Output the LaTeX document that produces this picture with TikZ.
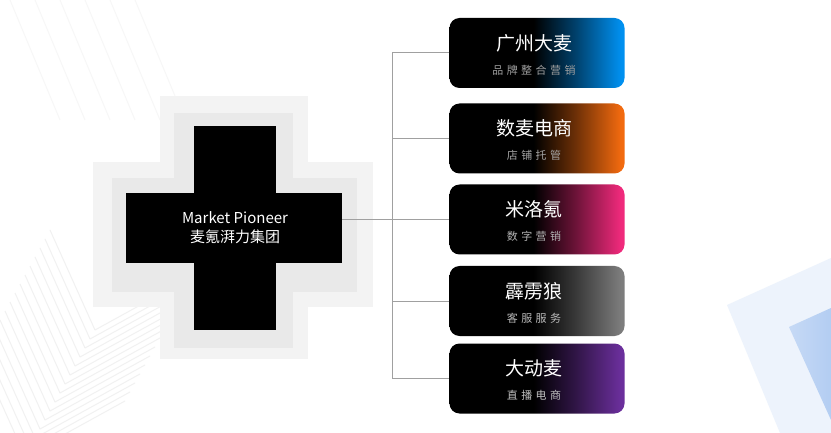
\documentclass[tikz,border=0pt]{standalone}
\usepackage{fontspec}
\setmainfont{Noto Sans CJK SC}
\usetikzlibrary{calc}
\definecolor{cblue}{HTML}{0090F0}
\definecolor{corange}{HTML}{F26A0F}
\definecolor{cpink}{HTML}{F02A7C}
\definecolor{cgray}{HTML}{7D7D7D}
\definecolor{cpurple}{HTML}{6B2F9C}
\definecolor{layerA}{HTML}{F3F3F3}
\definecolor{layerB}{HTML}{E9E9E9}
\definecolor{connc}{HTML}{A0A0A0}
\definecolor{bgstripe}{HTML}{F1F1F1}
\definecolor{paleblue}{HTML}{EDF3FC}
\definecolor{midblue}{HTML}{B3CDF2}
\pgfdeclarehorizontalshading{shblue}{100bp}{color(0bp)=(black); color(49bp)=(black); color(61bp)=(cblue!45!black); color(74bp)=(cblue); color(100bp)=(cblue)}
\pgfdeclarehorizontalshading{shorange}{100bp}{color(0bp)=(black); color(49bp)=(black); color(61bp)=(corange!45!black); color(74bp)=(corange); color(100bp)=(corange)}
\pgfdeclarehorizontalshading{shpink}{100bp}{color(0bp)=(black); color(49bp)=(black); color(61bp)=(cpink!45!black); color(74bp)=(cpink); color(100bp)=(cpink)}
\pgfdeclarehorizontalshading{shgray}{100bp}{color(0bp)=(black); color(49bp)=(black); color(61bp)=(cgray!45!black); color(74bp)=(cgray); color(100bp)=(cgray)}
\pgfdeclarehorizontalshading{shpurple}{100bp}{color(0bp)=(black); color(49bp)=(black); color(61bp)=(cpurple!45!black); color(74bp)=(cpurple); color(100bp)=(cpurple)}
\def\gs{\hspace{3.5pt}}
\tikzset{
  brandbox/.style={shade, shading=#1, shading angle=0,
    rounded corners=10pt, minimum width=175pt, minimum height=70pt, inner sep=0pt},
  titletext/.style={text=white, font=\fontsize{19}{22}\selectfont, inner sep=0pt},
  subtext/.style={text=#1, font=\fontsize{11}{13}\selectfont, inner sep=0pt},
  conn/.style={draw=connc, line width=1pt},
  crosstext/.style={text=white, align=center, font=\fontsize{15}{19}\selectfont, inner sep=0pt}
}
\begin{document}
\begin{tikzpicture}[x=1pt,y=-1pt]
\useasboundingbox (0,0) rectangle (831,433);
\fill[white] (0,0) rectangle (831,433);
% faint background textures
\foreach \i in {0,...,14}{
  \draw[bgstripe, line width=1pt] ($(95,330)+(-5*\i,9*\i)$) -- ++(-45,-100);
  \draw[bgstripe, line width=1pt] ($(95,330)+(-5*\i,9*\i)$) -- ++(100,-55);
}
\foreach \i in {0,...,5}{
  \draw[white!97!black, line width=1pt] (10+25*\i,0) -- (60+25*\i,120);
}
% bottom-right blue planes
\fill[paleblue] (727,305) -- (831,258) -- (831,433) -- (780,433) -- cycle;
\shade[left color=midblue!75, right color=midblue] (789,327) -- (831,308) -- (831,420) -- cycle;
% cross layers
\fill[layerA] (160,96) rectangle (308,359);
\fill[layerA] (93,162) rectangle (373,307);
\fill[layerB] (174,113) rectangle (293,348);
\fill[layerB] (112,178) rectangle (357,292);
\fill[black] (194,126) rectangle (276,330);
\fill[black] (126,193) rectangle (342,263);
\node[crosstext] (ct) at (235,228) {Market Pioneer\\麦氪湃力集团};
\coordinate (cr) at (342,219.5);
% boxes
\node[brandbox=shblue]   (b1) at (537,53)    {};
\node[brandbox=shorange] (b2) at (537,138.5) {};
\node[brandbox=shpink]   (b3) at (537,219.5) {};
\node[brandbox=shgray]   (b4) at (537,301)   {};
\node[brandbox=shpurple] (b5) at (537,378.5) {};
\node[titletext] (t1) at ($(b1.center)+(-3,-10)$) {广州大麦};
\node[subtext=gray!75] (s1) at ($(b1.center)+(-3,17)$) {品\gs 牌\gs 整\gs 合\gs 营\gs 销};
\node[titletext] (t2) at ($(b2.center)+(-3,-10)$) {数麦电商};
\node[subtext=gray!70] (s2) at ($(b2.center)+(-3,17)$) {店\gs 铺\gs 托\gs 管};
\node[titletext] (t3) at ($(b3.center)+(-3,-10)$) {米洛氪};
\node[subtext=gray!60] (s3) at ($(b3.center)+(-3,17)$) {数\gs 字\gs 营\gs 销};
\node[titletext] (t4) at ($(b4.center)+(-3,-10)$) {霹雳狼};
\node[subtext=gray!55] (s4) at ($(b4.center)+(-3,17)$) {客\gs 服\gs 服\gs 务};
\node[titletext] (t5) at ($(b5.center)+(-3,-10)$) {大动麦};
\node[subtext=gray!50] (s5) at ($(b5.center)+(-3,17)$) {直\gs 播\gs 电\gs 商};
% connectors
\draw[conn] (b1.west) -- ++(-57,0) |- (b5.west);
\draw[conn] (b2.west) -- ++(-57,0);
\draw[conn] (b4.west) -- ++(-57,0);
\draw[conn] (cr) -- (b3.west);
\end{tikzpicture}
\end{document}
